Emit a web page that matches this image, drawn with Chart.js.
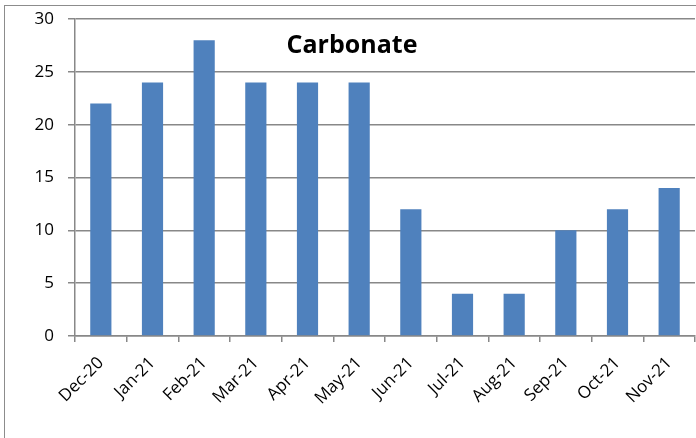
<!DOCTYPE html>
<html>
<head>
<meta charset="utf-8">
<script src="https://cdn.jsdelivr.net/npm/chart.js@4/dist/chart.umd.min.js"></script>
<style>
  html, body { margin: 0; padding: 0; background: #fff; overflow: hidden; }
  #wrap { position: relative; width: 696px; height: 438px; }
</style>
</head>
<body>
<div id="wrap"><canvas id="c" width="696" height="438"></canvas></div>
<script>
const months = ["Dec-20", "Jan-21", "Feb-21", "Mar-21", "Apr-21", "May-21",
                "Jun-21", "Jul-21", "Aug-21", "Sep-21", "Oct-21", "Nov-21"];
const carbonate = [22, 24, 28, 24, 24, 24, 12, 4, 4, 10, 12, 14];
const yTicks = [0, 5, 10, 15, 20, 25, 30];
const chartTitle = "Carbonate";

const gridGray = "#888888";

// Outer frame and the in-plot title
const decorations = {
  id: "decorations",
  beforeDraw(chart) {
    const ctx = chart.ctx;
    ctx.save();
    ctx.fillStyle = "#fff";
    ctx.fillRect(0, 0, chart.width, chart.height);
    ctx.strokeStyle = "#8c8c8c";
    ctx.lineWidth = 1;
    ctx.strokeRect(4.5, 5.5, chart.width + 20, chart.height + 20);
    ctx.restore();
  },
  afterDraw(chart) {
    const ctx = chart.ctx;
    ctx.save();
    ctx.font = "bold 25px 'Open Sans'";
    ctx.fillStyle = "#000";
    ctx.textAlign = "center";
    ctx.textBaseline = "middle";
    ctx.fillText(chartTitle, 352, 46);
    ctx.restore();
  }
};

new Chart(document.getElementById("c"), {
  type: "bar",
  data: {
    labels: months,
    datasets: [{
      data: carbonate,
      backgroundColor: "#4F81BD",
      borderWidth: 0,
      categoryPercentage: 1,
      barPercentage: 0.41
    }]
  },
  options: {
    responsive: false,
    animation: false,
    devicePixelRatio: 1,
    layout: { padding: { left: 0, top: 19, right: 1, bottom: 0 } },
    plugins: { legend: { display: false }, tooltip: { enabled: false } },
    scales: {
      x: {
        grid: {
          offset: true,
          drawOnChartArea: false,
          drawTicks: true,
          tickLength: 6,
          color: gridGray,
          lineWidth: 1.5
        },
        border: { color: gridGray, width: 1.5 },
        ticks: {
          color: "#000",
          font: { family: "'Open Sans'", size: 17 },
          minRotation: 45,
          maxRotation: 45,
          padding: 11,
          autoSkip: false
        },
        afterFit(scale) {
          scale.height = 102;
          scale.paddingLeft = 0;
          scale.paddingRight = 0;
        }
      },
      y: {
        min: 0,
        max: 30,
        afterBuildTicks(scale) { scale.ticks = yTicks.map(v => ({ value: v })); },
        grid: {
          color: gridGray,
          lineWidth: 1.5,
          drawTicks: true,
          tickLength: 7
        },
        border: { color: gridGray, width: 1.5 },
        ticks: {
          color: "#000",
          font: { family: "'Open Sans'", size: 17 },
          padding: 14
        },
        afterFit(scale) {
          scale.width = 75;
          scale.paddingTop = 0;
          scale.paddingBottom = 0;
        }
      }
    }
  },
  plugins: [decorations]
});
</script>
</body>
</html>
